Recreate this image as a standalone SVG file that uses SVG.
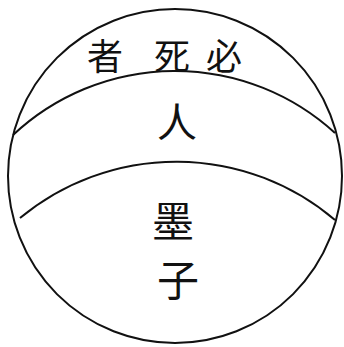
<svg xmlns="http://www.w3.org/2000/svg" width="344" height="347" viewBox="0 0 344 347">
<style>
.ln{fill:none;stroke:#111;stroke-width:2}
.t{font-family:"Noto Sans CJK SC","Noto Sans CJK TC",sans-serif;fill:#111;text-anchor:middle;dominant-baseline:central}
</style>
<rect width="344" height="347" fill="#fff"/>
<g id="connectors">
<circle class="ln" cx="175" cy="176" r="167"/>
<path class="ln" d="M13 135 A237 237 0 0 1 335 133"/>
<path class="ln" d="M20 218 A245 245 0 0 1 335 220"/>
</g>
<g id="top"><text class="t" font-size="36" x="105" y="54">者</text><text class="t" font-size="36" x="172" y="54">死</text><text class="t" font-size="36" x="224" y="54">必</text></g>
<g id="middle"><text class="t" font-size="40" x="177" y="120">人</text></g>
<g id="bottom"><text class="t" font-size="42" x="173" y="218">墨</text><text class="t" font-size="42" x="178" y="277">子</text></g>
</svg>
